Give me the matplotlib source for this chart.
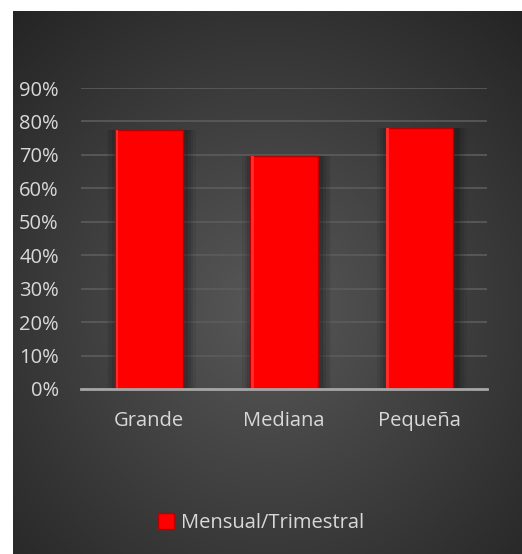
import numpy as np
import matplotlib
matplotlib.use("Agg")
import matplotlib.pyplot as plt
from matplotlib.patches import Patch

categories = ["Grande", "Mediana", "Pequeña"]
values = [0.775, 0.697, 0.781]
series_name = "Mensual/Trimestral"
yticks = [0, 0.1, 0.2, 0.3, 0.4, 0.5, 0.6, 0.7, 0.8, 0.9]

plt.rcParams['font.family'] = ['Open Sans', 'DejaVu Sans']
W, H = 522, 554
fig = plt.figure(figsize=(W / 100, H / 100), dpi=100)
fig.patch.set_facecolor('white')

# dark panel with radial gradient
bg = fig.add_axes([13 / W, 0, (W - 13) / W, (H - 11) / H])
yy, xx = np.mgrid[0:1:300j, 0:1:300j]
r = np.sqrt(((xx - 0.5) / 0.75) ** 2 + ((yy - 0.45) / 0.75) ** 2)
r = np.clip(r, 0, 1)
c0, c1 = np.array([0x58, 0x58, 0x58]) / 255, np.array([0x24, 0x24, 0x24]) / 255
img = c0[None, None, :] * (1 - r[..., None]) + c1[None, None, :] * r[..., None]
bg.imshow(img, origin='lower', extent=[0, 1, 0, 1], aspect='auto')
bg.axis('off')

ax = fig.add_axes([81 / W, 165 / H, (487 - 81) / W, 301 / H])
ax.patch.set_alpha(0)
x = np.arange(len(categories))

# soft shadow behind bars
for i, a in enumerate([0.06, 0.08, 0.10, 0.12]):
    ax.bar(x + 0.02, values, width=0.66 - i * 0.04, color='black', alpha=a,
           zorder=1, linewidth=0)
ax.bar(x, values, width=0.5, color='#ff0000', edgecolor='#b80000',
       linewidth=1.0, zorder=3)
# subtle bevel highlight
ax.bar(x - 0.235, values, width=0.02, color='#ff2a2a', linewidth=0, zorder=4)

ax.set_xlim(-0.5, len(categories) - 0.5)
ax.set_ylim(0, 0.9)
ax.set_yticks(yticks)
ax.set_yticklabels([f"{int(round(t * 100))}%" for t in yticks])
ax.set_xticks(x)
ax.set_xticklabels(categories)
ax.tick_params(axis='both', length=0, colors='#d9d9d9', labelsize=14.5)
ax.tick_params(axis='y', pad=16)
ax.tick_params(axis='x', pad=16)
ax.grid(axis='y', color='#5c5c5c', linewidth=1.2, zorder=0)
ax.set_axisbelow(True)
for s in ['top', 'right', 'left']:
    ax.spines[s].set_visible(False)
ax.spines['bottom'].set_color('#a6a6a6')
ax.spines['bottom'].set_linewidth(2)
ax.spines['bottom'].set_zorder(5)

leg = fig.legend(handles=[Patch(facecolor='#ff0000', edgecolor='#b80000', label=series_name)],
                 loc='center', bbox_to_anchor=(0.5, 31 / H), frameon=False,
                 fontsize=14.5, handlelength=0.8, handleheight=0.8, handletextpad=0.3)
for t in leg.get_texts():
    t.set_color('#d9d9d9')

fig.savefig('out.png', dpi=100)
